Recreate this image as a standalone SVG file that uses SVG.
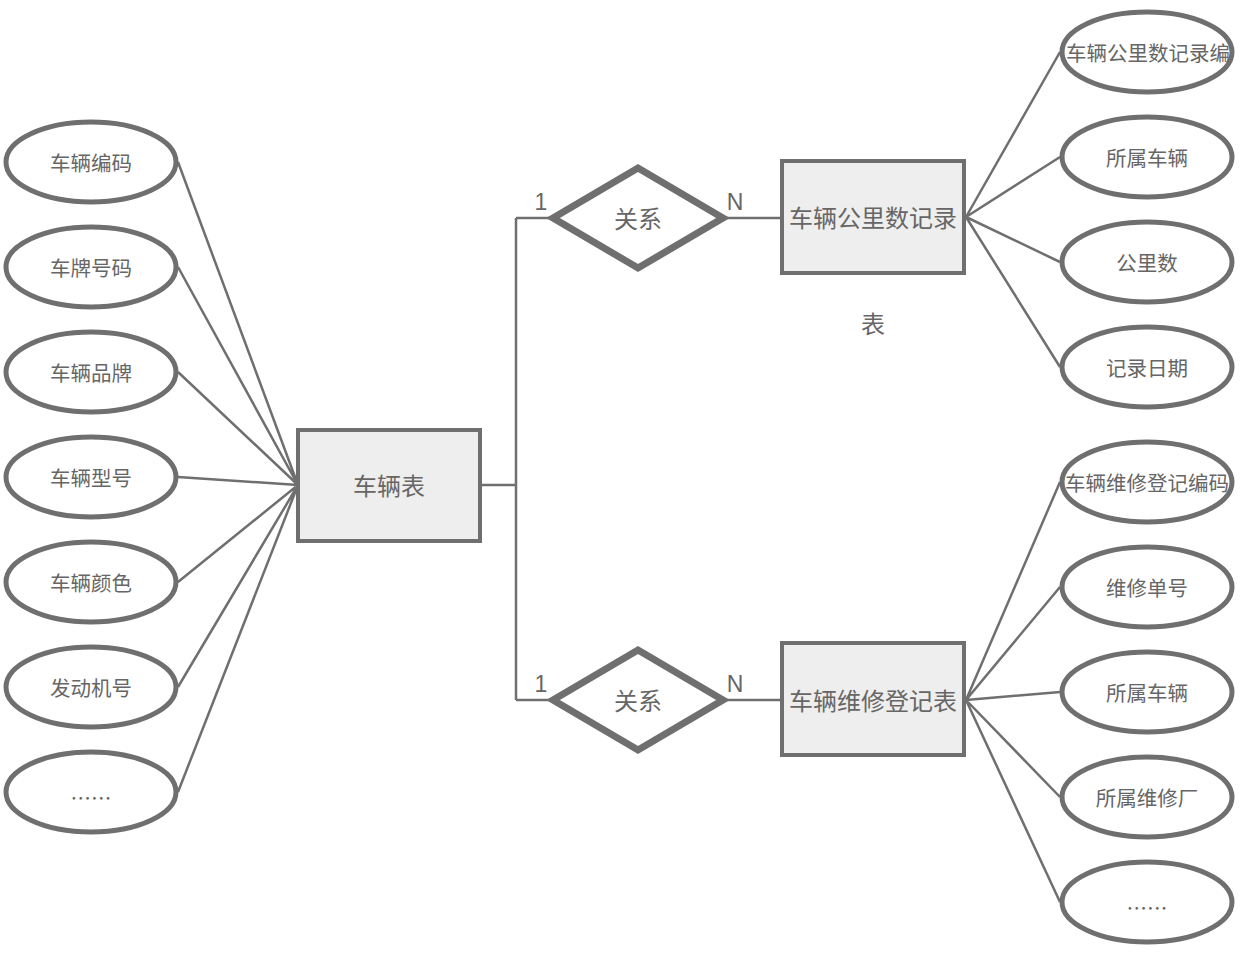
<svg xmlns="http://www.w3.org/2000/svg" width="1242" height="970" viewBox="0 0 1242 970">
<style>
.ell{fill:#fff;stroke:#6f6f6f;stroke-width:5}
.ent{fill:#eeeeee;stroke:#6f6f6f;stroke-width:4}
.rel{fill:#fff;stroke:#6f6f6f;stroke-width:7;stroke-linejoin:miter}
.ln{fill:none;stroke:#6f6f6f;stroke-width:2.5}
text{font-family:"Noto Sans CJK SC","Liberation Sans",sans-serif;fill:#666;text-anchor:middle}
.t20{font-size:20.5px}
.t24{font-size:24px}
.lbl{font-family:"Liberation Sans",sans-serif;font-size:23px}
</style>
<g id="connectors">
<path class="ln" d="M178,162 L298,485 M178,267 L298,485 M178,372 L298,485 M178,477 L298,485 M178,582 L298,485 M178,687 L298,485 M178,792 L298,485"/>
<path class="ln" d="M480,485 L516,485 M516,218 L516,700 M516,218 L553,218 M516,700 L553,700 M723,218 L782,218 M723,700 L782,700"/>
<path class="ln" d="M966,217 L1060,52 M966,217 L1060,157 M966,217 L1060,262 M966,217 L1060,367"/>
<path class="ln" d="M966,700 L1060,482 M966,700 L1060,587 M966,700 L1060,692 M966,700 L1060,797 M966,700 L1060,902"/>
<text class="lbl" x="541" y="210">1</text>
<text class="lbl" x="735" y="210">N</text>
<text class="lbl" x="541" y="692">1</text>
<text class="lbl" x="735" y="692">N</text>
</g>
<g id="a1"><ellipse class="ell" cx="91" cy="162" rx="85" ry="40"/><text class="t20" x="91" y="171">车辆编码</text></g>
<g id="a2"><ellipse class="ell" cx="91" cy="267" rx="85" ry="40"/><text class="t20" x="91" y="276">车牌号码</text></g>
<g id="a3"><ellipse class="ell" cx="91" cy="372" rx="85" ry="40"/><text class="t20" x="91" y="381">车辆品牌</text></g>
<g id="a4"><ellipse class="ell" cx="91" cy="477" rx="85" ry="40"/><text class="t20" x="91" y="486">车辆型号</text></g>
<g id="a5"><ellipse class="ell" cx="91" cy="582" rx="85" ry="40"/><text class="t20" x="91" y="591">车辆颜色</text></g>
<g id="a6"><ellipse class="ell" cx="91" cy="687" rx="85" ry="40"/><text class="t20" x="91" y="696">发动机号</text></g>
<g id="a7"><ellipse class="ell" cx="91" cy="792" rx="85" ry="40"/><text class="t20" x="91" y="806">……</text></g>
<g id="vehicle"><rect class="ent" x="298" y="430" width="182" height="111"/><text class="t24" x="389" y="495">车辆表</text></g>
<g id="rel1"><polygon class="rel" points="553,218 638,168 723,218 638,268"/><text class="t24" x="638" y="228">关系</text></g>
<g id="rel2"><polygon class="rel" points="553,700 638,650 723,700 638,750"/><text class="t24" x="638" y="710">关系</text></g>
<g id="mileage"><rect class="ent" x="782" y="161" width="182" height="112"/><text class="t24" x="873" y="227">车辆公里数记录</text><text class="t24" x="873" y="333">表</text></g>
<g id="repair"><rect class="ent" x="782" y="643" width="182" height="112"/><text class="t24" x="873" y="710">车辆维修登记表</text></g>
<g id="b1"><ellipse class="ell" cx="1147" cy="52" rx="85" ry="40"/><text class="t20" x="1066" y="61" style="text-anchor:start">车辆公里数记录编</text></g>
<g id="b2"><ellipse class="ell" cx="1147" cy="157" rx="85" ry="40"/><text class="t20" x="1147" y="166">所属车辆</text></g>
<g id="b3"><ellipse class="ell" cx="1147" cy="262" rx="85" ry="40"/><text class="t20" x="1147" y="271">公里数</text></g>
<g id="b4"><ellipse class="ell" cx="1147" cy="367" rx="85" ry="40"/><text class="t20" x="1147" y="376">记录日期</text></g>
<g id="c1"><ellipse class="ell" cx="1147" cy="482" rx="85" ry="40"/><text class="t20" x="1147" y="491">车辆维修登记编码</text></g>
<g id="c2"><ellipse class="ell" cx="1147" cy="587" rx="85" ry="40"/><text class="t20" x="1147" y="596">维修单号</text></g>
<g id="c3"><ellipse class="ell" cx="1147" cy="692" rx="85" ry="40"/><text class="t20" x="1147" y="701">所属车辆</text></g>
<g id="c4"><ellipse class="ell" cx="1147" cy="797" rx="85" ry="40"/><text class="t20" x="1147" y="806">所属维修厂</text></g>
<g id="c5"><ellipse class="ell" cx="1147" cy="902" rx="85" ry="40"/><text class="t20" x="1147" y="916">……</text></g>
</svg>
